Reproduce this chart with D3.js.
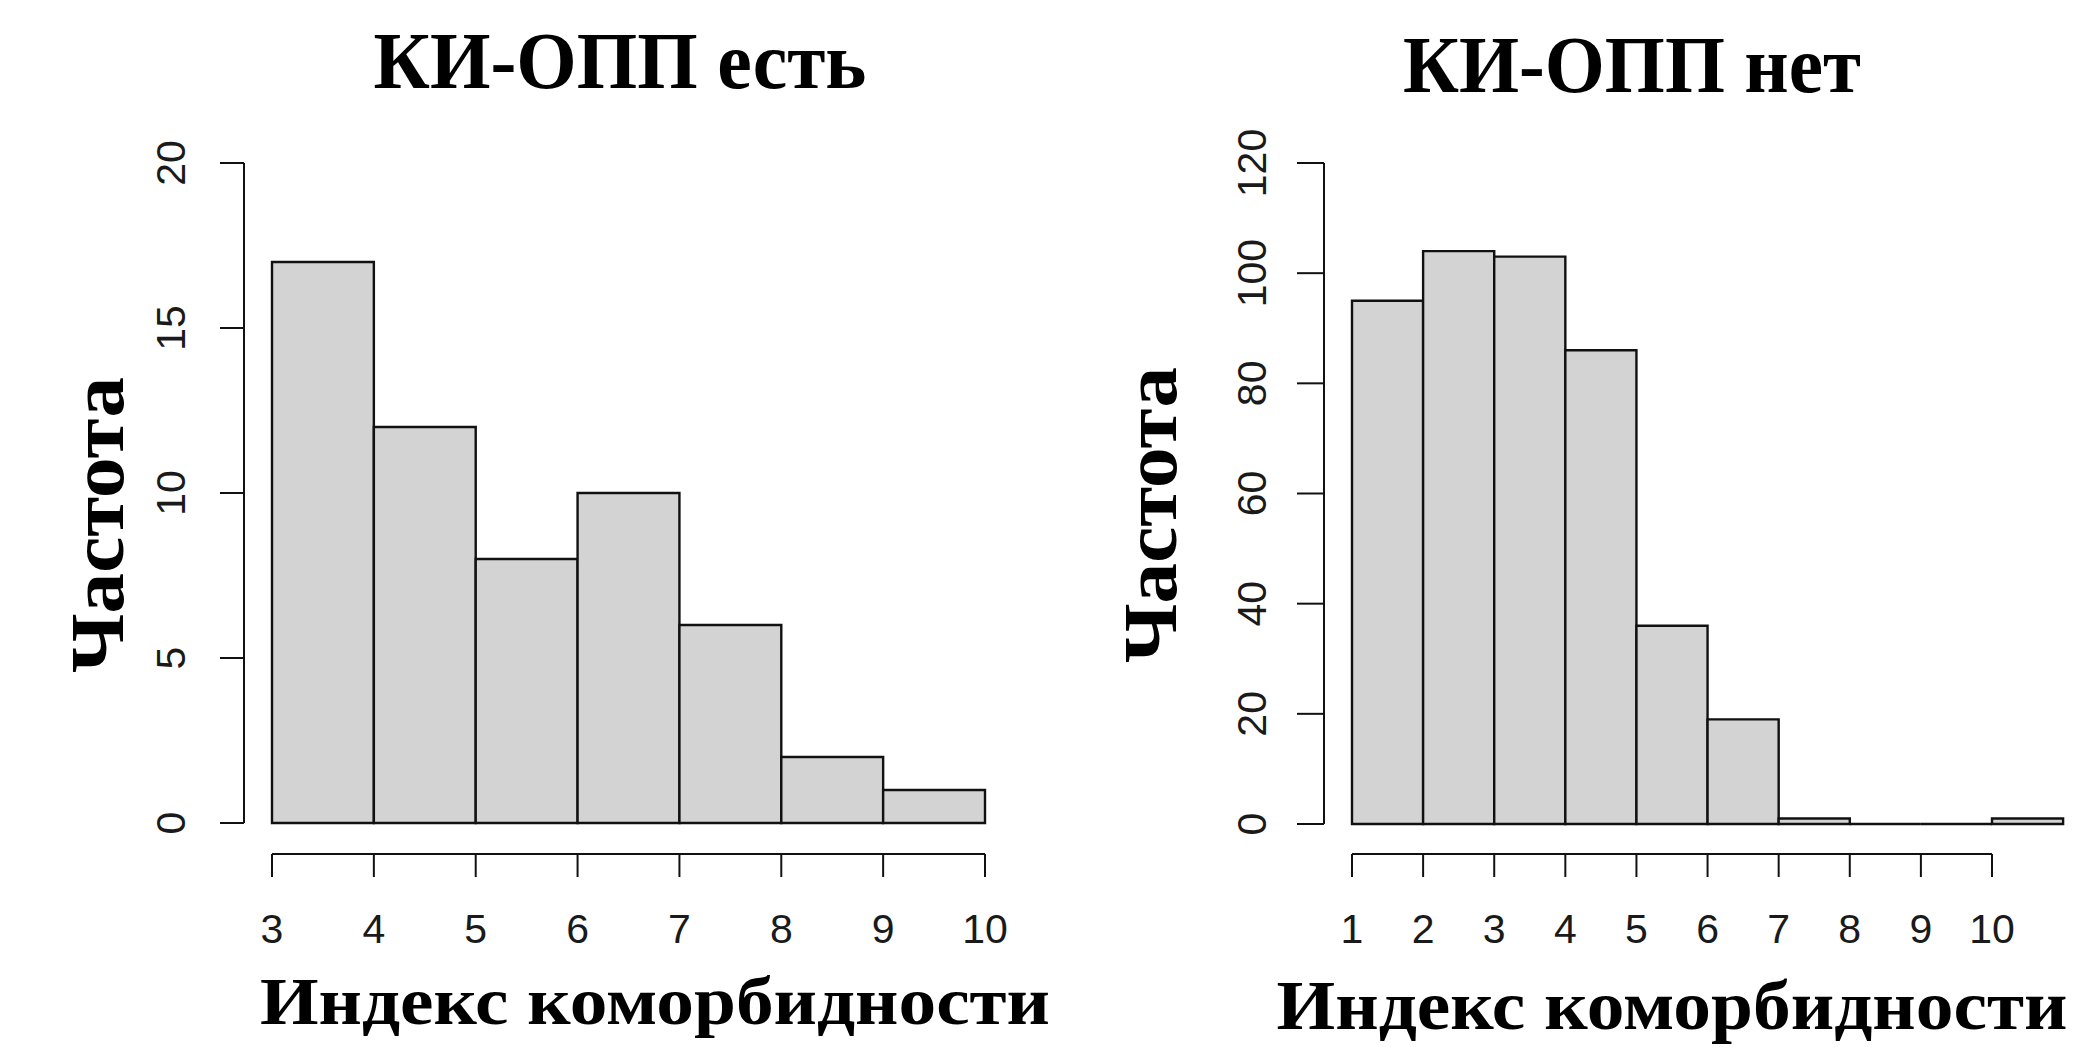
<!DOCTYPE html>
<html>
<head>
<meta charset="utf-8">
<script src="https://cdn.jsdelivr.net/npm/d3@7"></script>
<style>
  html, body { margin: 0; padding: 0; background: #ffffff; }
  svg { display: block; }
</style>
</head>
<body>
<svg id="chart" width="2093" height="1047"></svg>
<script>
// ---- data ----
const leftTitle = "КИ-ОПП есть";
const rightTitle = "КИ-ОПП нет";
const xLabel = "Индекс коморбидности";
const yLabel = "Частота";

const leftBinEdges = [3, 4, 5, 6, 7, 8, 9, 10];
const leftCounts = [17, 12, 8, 10, 6, 2, 1];
const leftXTicks = [3, 4, 5, 6, 7, 8, 9, 10];
const leftYTicks = [0, 5, 10, 15, 20];

const rightBinEdges = [1, 2, 3, 4, 5, 6, 7, 8, 9, 10, 11];
const rightCounts = [95, 104, 103, 86, 36, 19, 1, 0, 0, 1];
const rightXTicks = [1, 2, 3, 4, 5, 6, 7, 8, 9, 10];
const rightYTicks = [0, 20, 40, 60, 80, 100, 120];

// ---- layout ----
const svg = d3.select("#chart");
svg.append("rect").attr("width", 2093).attr("height", 1047).attr("fill", "#fff");

const panels = [
  {
    edges: leftBinEdges, counts: leftCounts, xTicks: leftXTicks, yTicks: leftYTicks,
    xDomain: [3, 10], xRange: [272, 985], yDomain: [0, 20], yRange: [823, 163],
    yAxisX: 244, tickLen: 24, yLabelBase: 185, xAxisY: 854, xTickLen: 23, xLabelBase: 943,
    title: leftTitle, titleX: 620, titleY: 88, titleW: 493,
    xlab: { x: 655, y: 1024, w: 790, fs: 68 },
    ylab: { x: 123, y: 525, w: 296, fs: 76 }
  },
  {
    edges: rightBinEdges, counts: rightCounts, xTicks: rightXTicks, yTicks: rightYTicks,
    xDomain: [1, 10], xRange: [1352, 1992], yDomain: [0, 120], yRange: [824, 163],
    yAxisX: 1324, tickLen: 27, yLabelBase: 1266, xAxisY: 854, xTickLen: 23, xLabelBase: 943,
    title: rightTitle, titleX: 1632, titleY: 92, titleW: 458,
    xlab: { x: 1672, y: 1029, w: 791, fs: 70 },
    ylab: { x: 1176, y: 515, w: 296, fs: 76 }
  }
];

panels.forEach(p => {
  const x = d3.scaleLinear().domain(p.xDomain).range(p.xRange);
  const y = d3.scaleLinear().domain(p.yDomain).range(p.yRange);
  const g = svg.append("g");

  // bars
  const bins = p.counts.map((c, i) => ({ x0: p.edges[i], x1: p.edges[i + 1], c }));
  g.selectAll("path.bar").data(bins).enter().append("path")
    .attr("class", "bar")
    .attr("d", d => {
      const pa = d3.path();
      pa.moveTo(x(d.x0), y(0));
      pa.lineTo(x(d.x1), y(0));
      pa.lineTo(x(d.x1), y(d.c));
      pa.lineTo(x(d.x0), y(d.c));
      pa.closePath();
      return pa.toString();
    })
    .attr("fill", "#d3d3d3")
    .attr("stroke", "#111")
    .attr("stroke-width", 2.4);

  // y axis
  const ya = g.append("g");
  ya.append("line")
    .attr("x1", p.yAxisX).attr("x2", p.yAxisX)
    .attr("y1", y(p.yTicks[0])).attr("y2", y(p.yTicks[p.yTicks.length - 1]))
    .attr("stroke", "#111").attr("stroke-width", 2);
  ya.selectAll("line.t").data(p.yTicks).enter().append("line")
    .attr("class", "t")
    .attr("x1", p.yAxisX - p.tickLen).attr("x2", p.yAxisX)
    .attr("y1", d => y(d)).attr("y2", d => y(d))
    .attr("stroke", "#111").attr("stroke-width", 2);
  ya.selectAll("text").data(p.yTicks).enter().append("text")
    .attr("transform", d => `translate(${p.yLabelBase},${y(d)}) rotate(-90)`)
    .attr("text-anchor", "middle")
    .attr("font-family", "Liberation Sans, Arial, sans-serif")
    .attr("font-size", 41)
    .attr("fill", "#1a1a1a")
    .text(d => d);

  // x axis
  const xa = g.append("g");
  xa.append("line")
    .attr("x1", x(p.xTicks[0])).attr("x2", x(p.xTicks[p.xTicks.length - 1]))
    .attr("y1", p.xAxisY).attr("y2", p.xAxisY)
    .attr("stroke", "#111").attr("stroke-width", 2);
  xa.selectAll("line.t").data(p.xTicks).enter().append("line")
    .attr("class", "t")
    .attr("x1", d => x(d)).attr("x2", d => x(d))
    .attr("y1", p.xAxisY).attr("y2", p.xAxisY + p.xTickLen)
    .attr("stroke", "#111").attr("stroke-width", 2);
  xa.selectAll("text").data(p.xTicks).enter().append("text")
    .attr("x", d => x(d)).attr("y", p.xLabelBase)
    .attr("text-anchor", "middle")
    .attr("font-family", "Liberation Sans, Arial, sans-serif")
    .attr("font-size", 41)
    .attr("fill", "#1a1a1a")
    .text(d => d);

  // title
  g.append("text")
    .attr("x", p.titleX).attr("y", p.titleY)
    .attr("text-anchor", "middle")
    .attr("font-family", "Liberation Serif, Times New Roman, serif")
    .attr("font-weight", "bold")
    .attr("font-size", 80)
    .attr("textLength", p.titleW)
    .attr("lengthAdjust", "spacingAndGlyphs")
    .attr("fill", "#000")
    .text(p.title);

  // x label
  g.append("text")
    .attr("x", p.xlab.x).attr("y", p.xlab.y)
    .attr("text-anchor", "middle")
    .attr("font-family", "Liberation Serif, Times New Roman, serif")
    .attr("font-weight", "bold")
    .attr("font-size", p.xlab.fs)
    .attr("textLength", p.xlab.w)
    .attr("lengthAdjust", "spacingAndGlyphs")
    .attr("fill", "#000")
    .text(xLabel);

  // y label
  g.append("text")
    .attr("transform", `translate(${p.ylab.x},${p.ylab.y}) rotate(-90)`)
    .attr("text-anchor", "middle")
    .attr("font-family", "Liberation Serif, Times New Roman, serif")
    .attr("font-weight", "bold")
    .attr("font-size", p.ylab.fs)
    .attr("textLength", p.ylab.w)
    .attr("lengthAdjust", "spacingAndGlyphs")
    .attr("fill", "#000")
    .text(yLabel);
});
</script>
</body>
</html>
